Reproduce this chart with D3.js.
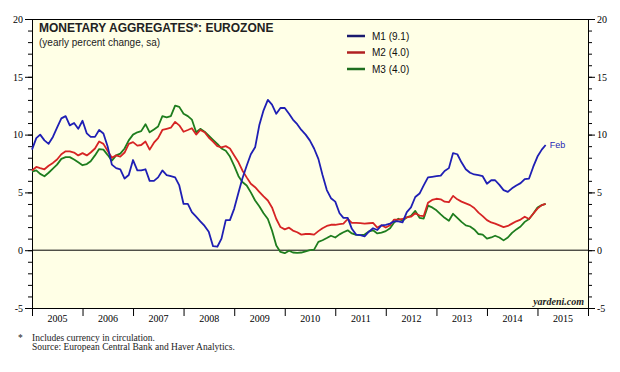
<!DOCTYPE html>
<html>
<head>
<meta charset="utf-8">
<script src="https://cdn.jsdelivr.net/npm/d3@7"></script>
<style>
  body { margin: 0; background: #fff; }
  svg { display: block; }
</style>
</head>
<body>
<script>
var width = 620,
    height = 372;

// monthly values, Dec 2004 .. Feb 2015 (plotted at month end)
var m1 = [8.7, 9.7, 10.0, 9.5, 9.2, 9.8, 10.6, 11.4, 11.6, 10.8, 11.0, 10.5,
    11.2, 10.1, 9.8, 9.8, 10.4, 10.1, 9.0, 7.4, 7.1, 7.0, 6.2, 6.5,
    7.8, 6.9, 6.9, 7.0, 6.0, 6.0, 6.3, 6.9, 6.5, 6.4, 6.3, 5.6,
    4.0, 4.0, 3.3, 2.9, 2.5, 2.1, 1.6, 0.35, 0.3, 1.0, 2.6, 2.6,
    3.6, 5.0, 6.2, 7.3, 8.3, 8.9, 10.8, 12.1, 13.0, 12.6, 11.8, 12.3,
    12.3, 11.8, 11.3, 10.9, 10.4, 10.0, 9.5, 8.8, 7.9, 6.5, 5.2, 4.5,
    4.2, 3.2, 2.8, 2.8, 1.85, 1.35, 1.3, 1.2, 1.6, 1.9, 1.75, 2.15,
    2.2, 2.3, 2.5, 2.5, 2.4, 3.3, 3.7, 4.6, 4.9, 5.6, 6.3, 6.35,
    6.4, 6.45, 6.85, 7.1, 8.4, 8.3, 7.6, 7.0, 6.7, 6.55, 6.5, 6.4,
    5.75, 6.05, 6.05, 5.65, 5.2, 5.05, 5.35, 5.6, 5.8, 6.15, 6.2, 7.2,
    8.1, 8.7, 9.1];

var m2 = [6.9, 7.2, 7.1, 7.0, 7.3, 7.55, 7.85, 8.3, 8.55, 8.55, 8.45, 8.2,
    8.4, 8.2, 8.45, 8.8, 9.4, 9.2, 8.6, 8.0, 8.2, 8.1, 8.45, 9.2,
    9.35, 9.05, 9.1, 9.4, 8.7, 9.3, 9.7, 10.4, 10.5, 10.6, 11.1, 10.8,
    10.25, 10.4, 10.55, 10.0, 10.4, 10.2, 9.75, 9.4, 9.0, 8.9, 9.0, 8.8,
    8.2, 7.6, 6.9, 6.3, 5.75, 5.45, 5.05, 4.65, 4.3, 3.7, 2.7, 2.0,
    1.8, 1.95, 1.7, 1.55, 1.35, 1.4, 1.4, 1.35, 1.65, 1.9, 2.1, 2.2,
    2.2, 2.25, 2.3, 2.7, 2.36, 2.36, 2.34, 2.3, 2.33, 2.36, 1.96, 2.16,
    1.96, 2.16, 2.65, 2.65, 2.7, 2.83, 2.9, 3.2, 3.0, 2.95, 4.1, 4.35,
    4.45, 4.4, 4.2, 4.15, 4.7, 4.4, 4.2, 4.05, 3.9, 3.65, 3.25, 2.95,
    2.6, 2.4, 2.3, 2.15, 2.0, 2.1, 2.3, 2.5, 2.65, 2.9, 2.7, 3.15,
    3.6, 3.9, 4.0];

var m3 = [6.8, 6.9, 6.6, 6.4, 6.7, 7.05, 7.4, 7.9, 8.05, 8.05, 7.85, 7.6,
    7.35, 7.45, 7.7, 8.2, 8.75, 8.7, 8.25, 7.75, 8.2, 8.35, 8.8, 9.5,
    10.0, 10.2, 10.3, 10.9, 10.2, 10.45, 10.7, 11.6, 11.5, 11.6, 12.5, 12.4,
    11.8, 11.6, 11.3, 10.2, 10.5, 10.25, 9.9, 9.55, 9.2, 8.8, 8.6, 8.1,
    7.3, 6.4, 5.9, 5.6, 5.0, 4.3, 3.8, 3.2, 2.7, 1.7, 0.4, -0.15,
    -0.26, -0.05, -0.2, -0.23, -0.2, -0.1, 0.0, 0.05, 0.72, 0.86, 1.05, 1.25,
    1.1, 1.37, 1.55, 1.72, 1.45, 1.32, 1.3, 1.35, 1.62, 1.72, 1.45, 1.52,
    1.65, 1.9, 2.4, 2.72, 2.55, 2.85, 2.98, 3.4, 2.8, 2.74, 3.85, 3.7,
    3.45, 3.1, 2.8, 2.55, 3.15, 2.8, 2.45, 2.15, 2.05, 1.8, 1.4, 1.35,
    1.0, 1.1, 1.25, 1.1, 0.85, 1.1, 1.5, 1.8, 2.05, 2.45, 2.7, 3.15,
    3.7, 3.9, 4.0];

var years = d3.range(2005, 2016);
var yTicks = [-5, 0, 5, 10, 15, 20];
var seriesNames = ["M1 (9.1)", "M2 (4.0)", "M3 (4.0)"];
var colors = ["#1f1fb4", "#d62424", "#1e7d1e"];
var legendColors = ["#1a1a6e", "#b02020", "#1e6e1e"];

var margin = {left: 32, right: 32, top: 19, bottom: 64};

var x = d3.scaleTime()
    .domain([new Date(2005, 0, 1), new Date(2016, 0, 1)])
    .range([margin.left, width - margin.right]);

var y = d3.scaleLinear()
    .domain([-5, 20])
    .range([height - margin.bottom, margin.top]);

var svg = d3.select("body").append("svg")
    .attr("width", width)
    .attr("height", height);

// plot background
svg.append("rect")
    .attr("x", x.range()[0])
    .attr("y", y(20))
    .attr("width", x.range()[1] - x.range()[0])
    .attr("height", y(-5) - y(20))
    .attr("fill", "#ffffe6");

// zero line
svg.append("line")
    .attr("x1", x.range()[0]).attr("x2", x.range()[1])
    .attr("y1", y(0)).attr("y2", y(0))
    .attr("stroke", "#000").attr("stroke-width", 1);

function styleAxis(g) {
    g.select(".domain").remove();
    g.selectAll(".tick line").attr("stroke", "#000");
    g.selectAll("text")
        .style("font-family", "'Liberation Serif', 'Times New Roman', serif")
        .style("font-size", "10px")
        .attr("fill", "#000");
}

// plain hyphen for negatives, like the original
var fmtY = function (d) { return String(d); };

// y axes: minor then major ticks, both sides
svg.append("g")
    .attr("transform", "translate(" + x.range()[0] + ",0)")
    .call(d3.axisLeft(y).tickValues(d3.range(-5, 21)).tickSize(4).tickFormat(""))
    .call(styleAxis);
svg.append("g")
    .attr("transform", "translate(" + x.range()[0] + ",0)")
    .call(d3.axisLeft(y).tickValues(yTicks).tickSize(7).tickPadding(2).tickFormat(fmtY))
    .call(styleAxis);
svg.append("g")
    .attr("transform", "translate(" + x.range()[1] + ",0)")
    .call(d3.axisRight(y).tickValues(d3.range(-5, 21)).tickSize(4).tickFormat(""))
    .call(styleAxis);
svg.append("g")
    .attr("transform", "translate(" + x.range()[1] + ",0)")
    .call(d3.axisRight(y).tickValues(yTicks).tickSize(7).tickPadding(2).tickFormat(fmtY))
    .call(styleAxis);

// x axis: year boundary ticks, labels centred in each year
svg.append("g")
    .attr("transform", "translate(0," + y(-5) + ")")
    .call(d3.axisBottom(x)
        .tickValues(d3.range(2005, 2017).map(function (d) { return new Date(d, 0, 1); }))
        .tickSize(8).tickFormat(""))
    .call(styleAxis);
svg.append("g")
    .attr("transform", "translate(0," + y(-5) + ")")
    .call(d3.axisBottom(x)
        .tickValues(years.map(function (d) { return new Date(d, 6, 1); }))
        .tickSize(0).tickPadding(7).tickFormat(d3.timeFormat("%Y")))
    .call(styleAxis);

// frame
svg.append("rect")
    .attr("x", x.range()[0] + 0.5)
    .attr("y", y(20) + 0.5)
    .attr("width", x.range()[1] - x.range()[0])
    .attr("height", y(-5) - y(20))
    .attr("fill", "none")
    .attr("stroke", "#000")
    .attr("stroke-width", 1);

var line = d3.line()
    .x(function (d, i) { return x(new Date(2005, i, 1)); })
    .y(function (d) { return y(d); });

[m3, m2, m1].forEach(function (s, k) {
    svg.append("path")
        .datum(s)
        .attr("d", line)
        .attr("fill", "none")
        .attr("stroke", colors[2 - k])
        .attr("stroke-width", 1.8)
        .attr("stroke-linejoin", "round");
});

// Feb label at end of M1
svg.append("text")
    .attr("x", x(new Date(2005, m1.length - 1, 1)) + 4)
    .attr("y", y(m1[m1.length - 1]) + 3)
    .text("Feb")
    .style("font-family", "'Liberation Sans', Arial, sans-serif")
    .style("font-size", "9px")
    .attr("fill", colors[0]);

// title
svg.append("text")
    .attr("x", 39).attr("y", 32)
    .text("MONETARY AGGREGATES*: EUROZONE")
    .style("font-family", "'Liberation Sans', Arial, sans-serif")
    .style("font-weight", "bold")
    .style("font-size", "12px")
    .attr("fill", "#222");
svg.append("text")
    .attr("x", 39).attr("y", 46)
    .text("(yearly percent change, sa)")
    .style("font-family", "'Liberation Sans', Arial, sans-serif")
    .style("font-size", "10px")
    .attr("fill", "#222");

// legend
var legend = svg.append("g").attr("transform", "translate(347,36)");
seriesNames.forEach(function (name, i) {
    legend.append("line")
        .attr("x1", 0).attr("x2", 18)
        .attr("y1", i * 16.5).attr("y2", i * 16.5)
        .attr("stroke", legendColors[i])
        .attr("stroke-width", 2.5);
    legend.append("text")
        .attr("x", 25).attr("y", i * 16.5 + 3.5)
        .text(name)
        .style("font-family", "'Liberation Sans', Arial, sans-serif")
        .style("font-size", "10px")
        .attr("fill", "#111");
});

// source
svg.append("text")
    .attr("x", x.range()[1] - 4).attr("y", y(-5) - 3)
    .attr("text-anchor", "end")
    .text("yardeni.com")
    .style("font-family", "'Liberation Serif', 'Times New Roman', serif")
    .style("font-style", "italic")
    .style("font-weight", "bold")
    .style("font-size", "10px")
    .attr("fill", "#222");

var foot = svg.append("g")
    .style("font-family", "'Liberation Serif', 'Times New Roman', serif")
    .style("font-size", "9.5px")
    .attr("fill", "#222");
foot.append("text").attr("x", 18).attr("y", 341).text("*");
foot.append("text").attr("x", 32).attr("y", 341).text("Includes currency in circulation.");
foot.append("text").attr("x", 32).attr("y", 350).text("Source: European Central Bank and Haver Analytics.");
</script>
</body>
</html>
